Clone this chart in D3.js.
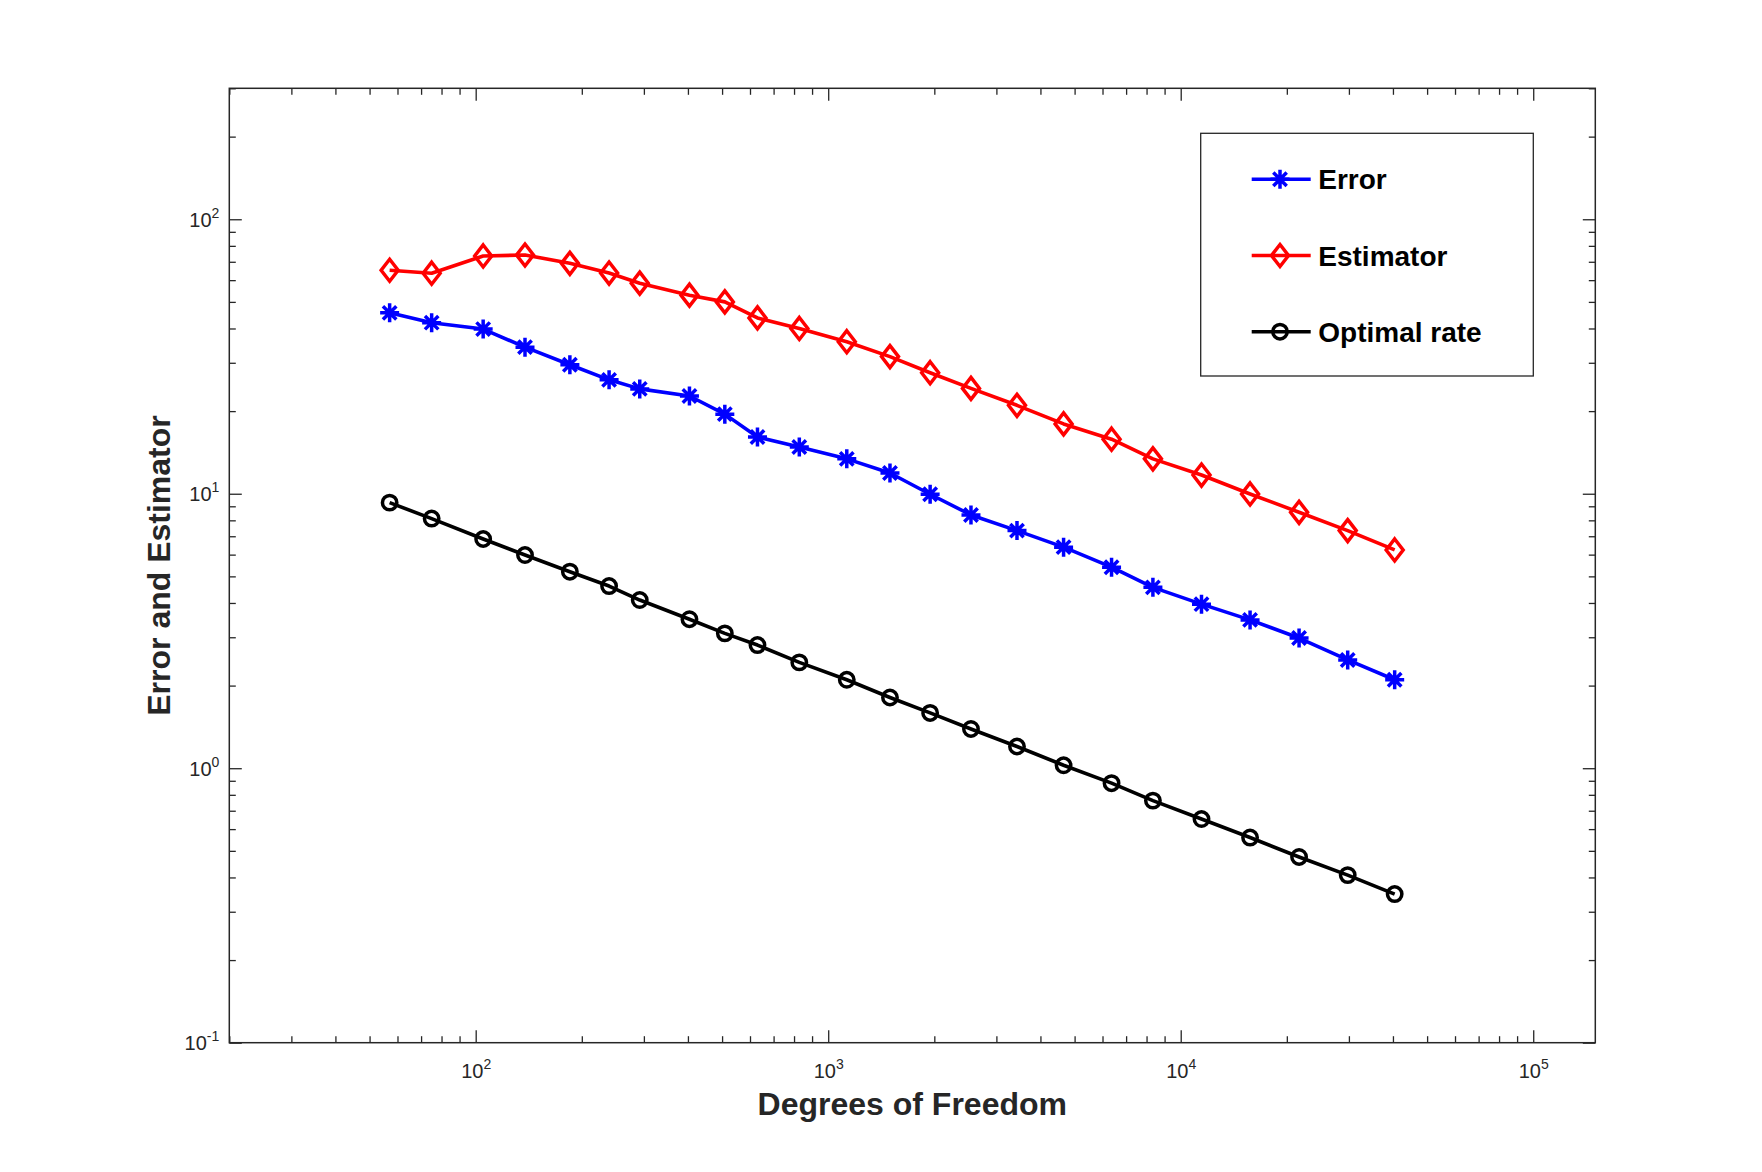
<!DOCTYPE html>
<html>
<head>
<meta charset="utf-8">
<style>
body { margin: 0; background: white; }
text { font-family: "Liberation Sans", Arial, Helvetica, sans-serif; fill: #262626; }
</style>
</head>
<body>

<svg id='chart'></svg>

<script src="https://d3js.org/d3.v7.min.js"></script>
<script>
IMG_SIZE = [1762, 1172]
PLOT = {left: 229.3, top: 88.3, right: 1595.3, bottom: 1042.7}

// data
var dof = [57, 75, 105, 138, 185, 239, 292, 404, 509, 630, 828, 1129,
	1497, 1946, 2541, 3432, 4653, 6365, 8339, 11454, 15730, 21665, 29765, 40453]
var errorVals = [45.6, 42.0, 39.8, 34.2, 29.5, 26.0, 24.1, 22.7, 19.5, 16.1, 14.8, 13.4,
	11.9, 9.96, 8.37, 7.34, 6.39, 5.40, 4.56, 3.96, 3.47, 2.98, 2.48, 2.10]
var estimatorVals = [65.2, 63.6, 73.5, 74.1, 69.1, 63.7, 58.5, 52.9, 50.0, 43.7, 40.0, 35.8,
	31.6, 27.6, 24.2, 21.0, 17.96, 15.8, 13.4, 11.7, 9.98, 8.56, 7.34, 6.24]
var optimalVals = [9.28, 8.12, 6.84, 5.98, 5.20, 4.61, 4.10, 3.49, 3.10, 2.81, 2.43, 2.10,
	1.81, 1.59, 1.39, 1.20, 1.025, 0.882, 0.762, 0.653, 0.559, 0.475, 0.408, 0.348]

var seriesNames = ['Error', 'Estimator', 'Optimal rate']
var seriesColors = ['#0000ff', '#ff0000', '#000000']
var seriesMarkers = ['asterisk', 'diamond', 'circle']

var xDomain = [20, 150000]
var yDomain = [0.1, 300]
var xMajor = [100, 1000, 10000, 100000]
var yMajor = [0.1, 1, 10, 100]

var AXIS_COLOR = '#262626'

function minorTicks(domain) {
	var ticks = []
	var lo = Math.floor(Math.log10(domain[0]))
	var hi = Math.ceil(Math.log10(domain[1]))
	for (var e = lo; e < hi; e++) {
		for (var m = 2; m < 10; m++) {
			var v = m * Math.pow(10, e)
			if (v >= domain[0] && v <= domain[1]) ticks.push(v)
		}
	}
	return ticks
}

function markerPath(type) {
	if (type == 'diamond') {
		return 'M 0 -11 L 8.5 0 L 0 11 L -8.5 0 Z'
	}
	if (type == 'asterisk') {
		var r = 9.5, d = 6.7
		return 'M ' + (-r) + ' 0 L ' + r + ' 0 M 0 ' + (-r) + ' L 0 ' + r +
			' M ' + (-d) + ' ' + (-d) + ' L ' + d + ' ' + d +
			' M ' + (-d) + ' ' + d + ' L ' + d + ' ' + (-d)
	}
	return 'M -7.2 0 A 7.2 7.2 0 1 0 7.2 0 A 7.2 7.2 0 1 0 -7.2 0 Z'
}

function drawChart() {
	var svg = d3.select('#chart')
		.attr('width', IMG_SIZE[0])
		.attr('height', IMG_SIZE[1])

	svg.append('rect')
		.attr('width', IMG_SIZE[0])
		.attr('height', IMG_SIZE[1])
		.style('fill', 'white')

	var x = d3.scaleLog().domain(xDomain).range([PLOT.left, PLOT.right])
	var y = d3.scaleLog().domain(yDomain).range([PLOT.bottom, PLOT.top])

	// ticks on all four sides, pointing in
	var sides = [
		{axis: d3.axisBottom, scale: x, major: xMajor, minor: minorTicks(xDomain), tr: 'translate(0,' + PLOT.bottom + ')', label: true},
		{axis: d3.axisTop, scale: x, major: xMajor, minor: minorTicks(xDomain), tr: 'translate(0,' + PLOT.top + ')', label: false},
		{axis: d3.axisLeft, scale: y, major: yMajor, minor: minorTicks(yDomain), tr: 'translate(' + PLOT.left + ',0)', label: true},
		{axis: d3.axisRight, scale: y, major: yMajor, minor: minorTicks(yDomain), tr: 'translate(' + PLOT.right + ',0)', label: false}
	]

	sides.forEach(function(s) {
		var gMinor = svg.append('g')
			.attr('transform', s.tr)
			.call(s.axis(s.scale).tickValues(s.minor).tickSize(-6.5).tickFormat(''))
		gMinor.select('.domain').remove()
		gMinor.selectAll('line').style('stroke', AXIS_COLOR).style('stroke-width', 1.3)

		var gMajor = svg.append('g')
			.attr('transform', s.tr)
			.call(s.axis(s.scale).tickValues(s.major).tickSize(-12.5).tickFormat(function(d) { return '' }))
		gMajor.select('.domain').remove()
		gMajor.selectAll('line').style('stroke', AXIS_COLOR).style('stroke-width', 1.3)

		gMajor.selectAll('.tick text').remove()
		if (s.label) {
			var isX = (s.axis == d3.axisBottom)
			gMajor.selectAll('.tick').each(function(d) {
				var t = d3.select(this).append('text')
					.attr('font-size', 20)
					.style('fill', AXIS_COLOR)
				if (isX) {
					t.attr('x', 0).attr('y', 35).attr('text-anchor', 'middle')
				} else {
					t.attr('x', -10).attr('y', 7).attr('text-anchor', 'end')
				}
				t.append('tspan').text('10')
				t.append('tspan')
					.attr('font-size', 14)
					.attr('dy', -9)
					.text(Math.round(Math.log10(d)))
			})
		}
	})

	// box
	svg.append('rect')
		.attr('x', PLOT.left)
		.attr('y', PLOT.top)
		.attr('width', PLOT.right - PLOT.left)
		.attr('height', PLOT.bottom - PLOT.top)
		.style('fill', 'none')
		.style('stroke', AXIS_COLOR)
		.style('stroke-width', 1.5)

	var allSeries = [errorVals, estimatorVals, optimalVals]
	var line = d3.line()
		.x(function(d) { return x(d[0]) })
		.y(function(d) { return y(d[1]) })

	allSeries.forEach(function(vals, i) {
		var pts = dof.map(function(n, j) { return [n, vals[j]] })
		svg.append('path')
			.datum(pts)
			.attr('d', line)
			.style('fill', 'none')
			.style('stroke', seriesColors[i])
			.style('stroke-width', 3.6)
			.style('stroke-linejoin', 'round')

		svg.append('g').selectAll('path')
			.data(pts)
			.enter()
			.append('path')
			.attr('transform', function(d) { return 'translate(' + x(d[0]) + ',' + y(d[1]) + ')' })
			.attr('d', markerPath(seriesMarkers[i]))
			.style('fill', 'none')
			.style('stroke', seriesColors[i])
			.style('stroke-width', 3.5)
	})

	// axis titles
	svg.append('text')
		.attr('x', (PLOT.left + PLOT.right) / 2)
		.attr('y', 1115)
		.attr('text-anchor', 'middle')
		.attr('font-size', 32)
		.attr('font-weight', 'bold')
		.text('Degrees of Freedom')

	svg.append('text')
		.attr('transform', 'translate(170,' + ((PLOT.top + PLOT.bottom) / 2) + ') rotate(-90)')
		.attr('text-anchor', 'middle')
		.attr('font-size', 32)
		.attr('font-weight', 'bold')
		.text('Error and Estimator')

	// legend
	var legend = svg.append('g')
	legend.append('rect')
		.attr('x', 1200.7)
		.attr('y', 133.3)
		.attr('width', 1533.3 - 1200.7)
		.attr('height', 376 - 133.3)
		.style('fill', 'white')
		.style('stroke', AXIS_COLOR)
		.style('stroke-width', 1.3)

	var legendY = d3.scalePoint().domain(seriesNames).range([179.3, 331.7])
	seriesNames.forEach(function(name, i) {
		var ly = legendY(name)
		legend.append('line')
			.attr('x1', 1251.7).attr('x2', 1310.7)
			.attr('y1', ly).attr('y2', ly)
			.style('stroke', seriesColors[i])
			.style('stroke-width', 3.6)
		legend.append('path')
			.attr('transform', 'translate(1280,' + ly + ')')
			.attr('d', markerPath(seriesMarkers[i]))
			.style('fill', 'none')
			.style('stroke', seriesColors[i])
			.style('stroke-width', 3.5)
		legend.append('text')
			.attr('x', 1318.3)
			.attr('y', ly + 10)
			.attr('font-size', 28)
			.attr('font-weight', 'bold')
			.style('fill', 'black')
			.text(name)
	})
}

drawChart();

</script>

</body>
</html>
